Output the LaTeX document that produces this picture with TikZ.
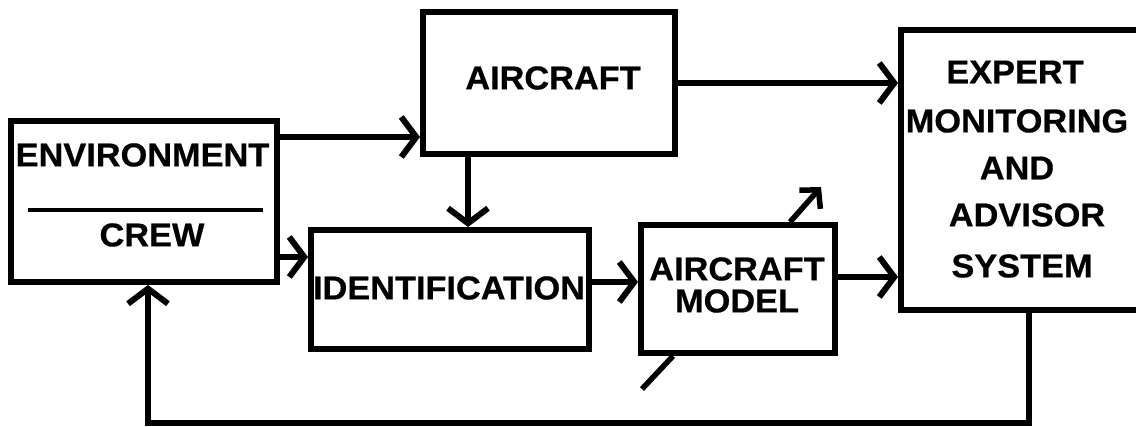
\documentclass[tikz,border=0pt]{standalone}
\usepackage{fontspec}
\newfontfamily\lab{Liberation Sans}[FakeStretch=1.04,FakeBold=0.6]
\usetikzlibrary{arrows.meta,calc}

\begin{document}
\begin{tikzpicture}[x=1pt,y=-1pt,
  box/.style={draw,line width=6pt,inner sep=0pt,minimum width=#1},
  lbl/.style={inner sep=0pt,font=\lab\bfseries\fontsize{33}{39}\selectfont},
  arr/.style={line width=6pt,-{Straight Barb[length=15pt,width=40pt]}},
  tilt/.style={line width=5.5pt},
  tiltarr/.style={line width=5.5pt,-{Straight Barb[length=13pt,width=28pt]}},
  divider/.style={line width=3.5pt}]
  \clip (0,0) rectangle (1136,427);

  % blocks
  \node[box=266pt,minimum height=161pt] (env)   at (144,201.5) {};
  \node[box=252pt,minimum height=142pt] (air)   at (549,83) {};
  \node[box=278pt,minimum height=119pt] (ident) at (450,289.5) {};
  \node[box=194pt,minimum height=128pt] (model) at (738,289) {};
  \node[box=259pt,minimum height=280pt] (exp)   at (1030.5,170) {};

  % block texts
  \node[lbl] (tEnv)   at (142.5,155) {ENVIRONMENT};
  \node[lbl] (tCrew)  at (152,235) {CREW};
  \draw[divider] ([shift={(20,8.5)}]env.west) -- ([shift={(-17,8.5)}]env.east);
  \node[lbl] (tAir)   at (553,78) {AIRCRAFT};
  \node[lbl] (tIdent) at (449,288) {IDENTIFICATION};
  \node[lbl] (tMod1)  at (737,269) {AIRCRAFT};
  \node[lbl] (tMod2)  at (737,301) {MODEL};
  \node[lbl] (tExp1)  at (1015,72) {EXPERT};
  \node[lbl] (tExp2)  at (1017,121) {MONITORING};
  \node[lbl] (tExp3)  at (1017,168) {AND};
  \node[lbl] (tExp4)  at (1027,215) {ADVISOR};
  \node[lbl] (tExp5)  at (1022,266) {SYSTEM};

  % reference points for the connector runs
  \coordinate (yEA) at (0,137);
  \coordinate (yEI) at (0,257);
  \coordinate (xAI) at (468,0);
  \coordinate (yIM) at (0,282);
  \coordinate (yME) at (0,277);
  \coordinate (fbR) at (1029,423);
  \coordinate (fbL) at (148,423);
  \coordinate (upEnd) at (821,187);
  \coordinate (lowEnd) at (642,389);

  % signal flow
  \draw[arr] (env.east |- yEA) -- (air.west |- yEA);
  \draw[arr] (env.east |- yEI) -- (ident.west |- yEI);
  \draw[arr] (air.south -| xAI) -- (ident.north -| xAI);
  \draw[arr] (air.east) -- (exp.west |- air.east);
  \draw[arr] (ident.east |- yIM) -- (model.west |- yIM);
  \draw[arr] (model.east |- yME) -- (exp.west |- yME);
  \draw[arr] (exp.south -| fbR) -- (fbR) -- (fbL) -- (env.south -| fbL);

  % adjustable-model diagonal
  \draw[tiltarr] ($(model.north west)!0.76!(model.north east)$) -- (upEnd);
  \draw[tilt] (lowEnd) -- ($(model.south west)!0.175!(model.south east)$);
\end{tikzpicture}
\end{document}
